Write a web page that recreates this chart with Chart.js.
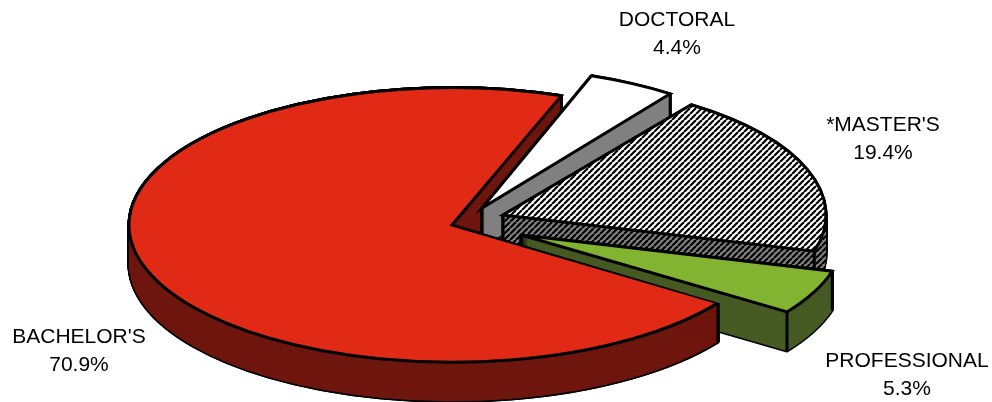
<!DOCTYPE html>
<html>
<head>
<meta charset="utf-8">
<style>
  html, body { margin: 0; padding: 0; background: #fff; }
  canvas { display: block; }
</style>
<script src="https://cdn.jsdelivr.net/npm/chart.js@4/dist/chart.umd.min.js"></script>
</head>
<body>
<canvas id="chart" width="992" height="402"></canvas>
<script>
// data, clockwise from the back of the pie
const categories = ['DOCTORAL', '*MASTER\'S', 'PROFESSIONAL', 'BACHELOR\'S'];
const percents = [4.4, 19.4, 5.3, 70.9];

// look of the slices
const topColors = ['#ffffff', null, '#82b432', '#e12a15'];
const wallColors = ['#808080', null, '#465a24', '#6e150e'];
const sliceShift = [[-14, 7], [7, 14], [25, 34], [-44, 24]];
const sliceSquash = [0.435, 0.42, 0.42, 0.425];
const labelSpots = [[677, 20], [883, 125], [907, 361], [79, 337]];
const depth = 39;
const edgeWidth = 3;

function hatch(bg, fg) {
    const size = 6;
    const tile = document.createElement('canvas');
    tile.width = tile.height = size;
    const t = tile.getContext('2d');
    t.fillStyle = bg;
    t.fillRect(0, 0, size, size);
    t.strokeStyle = fg;
    t.lineWidth = 2.2;
    for (let i = -size; i <= size * 2; i += size) {
        t.beginPath();
        t.moveTo(i, size);
        t.lineTo(i + size, 0);
        t.stroke();
    }
    return t.createPattern(tile, 'repeat');
}
topColors[1] = hatch('#ffffff', '#000000');
wallColors[1] = hatch('#808080', '#000000');

// fill and stroke in screen space so the squash does not thin the lines
function flatPaint(ctx, fn) {
    const fill = ctx.fill, stroke = ctx.stroke;
    const wrap = (orig) => function () {
        const m = ctx.getTransform();
        ctx.setTransform(1, 0, 0, 1, 0, 0);
        orig.apply(ctx, arguments);
        ctx.setTransform(m);
    };
    ctx.fill = wrap(fill);
    ctx.stroke = wrap(stroke);
    fn();
    delete ctx.fill;
    delete ctx.stroke;
}

function drawArc(ctx, arc, i, drop, look) {
    const [sx, sy] = sliceShift[i];
    const base = arc.options;
    arc.options = Object.assign(Object.create(base), look);
    ctx.save();
    ctx.translate(arc.x + sx, arc.y + sy + drop);
    ctx.scale(1, sliceSquash[i]);
    ctx.translate(-arc.x, -arc.y);
    arc.draw(ctx);
    ctx.restore();
    arc.options = base;
}

function rimPoint(arc, i, angle) {
    const [sx, sy] = sliceShift[i];
    return [arc.x + sx + Math.cos(angle) * arc.outerRadius,
            arc.y + sy + Math.sin(angle) * arc.outerRadius * sliceSquash[i]];
}

function drawSlice(ctx, arc, i) {
    flatPaint(ctx, () => {
        // black silhouette of the extruded slice, then the wall colour inside it
        for (let d = 0; d <= depth; d++) {
            drawArc(ctx, arc, i, d, { backgroundColor: 'rgba(0,0,0,0)', borderColor: '#000', borderWidth: edgeWidth, borderJoinStyle: 'round' });
        }
        for (let d = 0; d <= depth; d++) {
            drawArc(ctx, arc, i, d, { backgroundColor: wallColors[i], borderWidth: 0 });
        }
    });
    // vertical edges
    const [sx, sy] = sliceShift[i];
    const corners = [rimPoint(arc, i, arc.startAngle), rimPoint(arc, i, arc.endAngle), [arc.x + sx, arc.y + sy]];
    ctx.save();
    ctx.strokeStyle = '#000';
    ctx.lineWidth = edgeWidth;
    corners.forEach(([x, y]) => {
        ctx.beginPath();
        ctx.moveTo(x, y);
        ctx.lineTo(x, y + depth);
        ctx.stroke();
    });
    ctx.restore();
    flatPaint(ctx, () => {
        drawArc(ctx, arc, i, 0, { backgroundColor: topColors[i], borderColor: '#000', borderWidth: edgeWidth, borderJoinStyle: 'miter' });
    });
}

const pie3d = {
    id: 'pie3d',
    beforeDatasetsDraw(chart) {
        const ctx = chart.ctx;
        const arcs = chart.getDatasetMeta(0).data;
        const last = arcs.length - 1;
        // big slice goes first so its cut wall sits behind the small slices
        drawSlice(ctx, arcs[last], last);
        for (let i = 0; i < last; i++) {
            drawSlice(ctx, arcs[i], i);
        }
        // and again on top, limited to its own wedge, for the front wall
        const big = arcs[last];
        const [sx, sy] = sliceShift[last];
        const a = rimPoint(big, last, big.endAngle);
        const b = rimPoint(big, last, big.startAngle);
        const ox = big.x + sx + 3, oy = big.y + sy;
        const far = 5;
        ctx.save();
        ctx.beginPath();
        ctx.moveTo(ox, oy);
        ctx.lineTo(ox + (a[0] - ox) * far, oy + (a[1] - oy) * far);
        ctx.lineTo(-2000, -2000);
        ctx.lineTo(-2000, 3000);
        ctx.lineTo(3000, 3000);
        ctx.lineTo(ox + (b[0] - ox) * far, oy + (b[1] - oy) * far);
        ctx.closePath();
        ctx.clip();
        drawSlice(ctx, big, last);
        ctx.restore();
        return false;
    },
    afterDraw(chart) {
        const ctx = chart.ctx;
        ctx.save();
        ctx.fillStyle = '#000';
        ctx.font = '21px "Liberation Sans", Arial, sans-serif';
        ctx.textAlign = 'center';
        ctx.textBaseline = 'middle';
        categories.forEach((name, i) => {
            const [x, y] = labelSpots[i];
            ctx.fillText(name, x, y);
            ctx.fillText(percents[i].toFixed(1) + '%', x, y + 28);
        });
        ctx.restore();
    }
};

new Chart(document.getElementById('chart').getContext('2d'), {
    type: 'pie',
    data: {
        labels: categories,
        datasets: [{ data: percents, backgroundColor: topColors }]
    },
    options: {
        responsive: false,
        animation: false,
        rotation: 19.8,
        radius: 323,
        layout: { padding: 0 },
        plugins: { legend: { display: false }, tooltip: { enabled: false } }
    },
    plugins: [pie3d]
});
</script>
</body>
</html>
